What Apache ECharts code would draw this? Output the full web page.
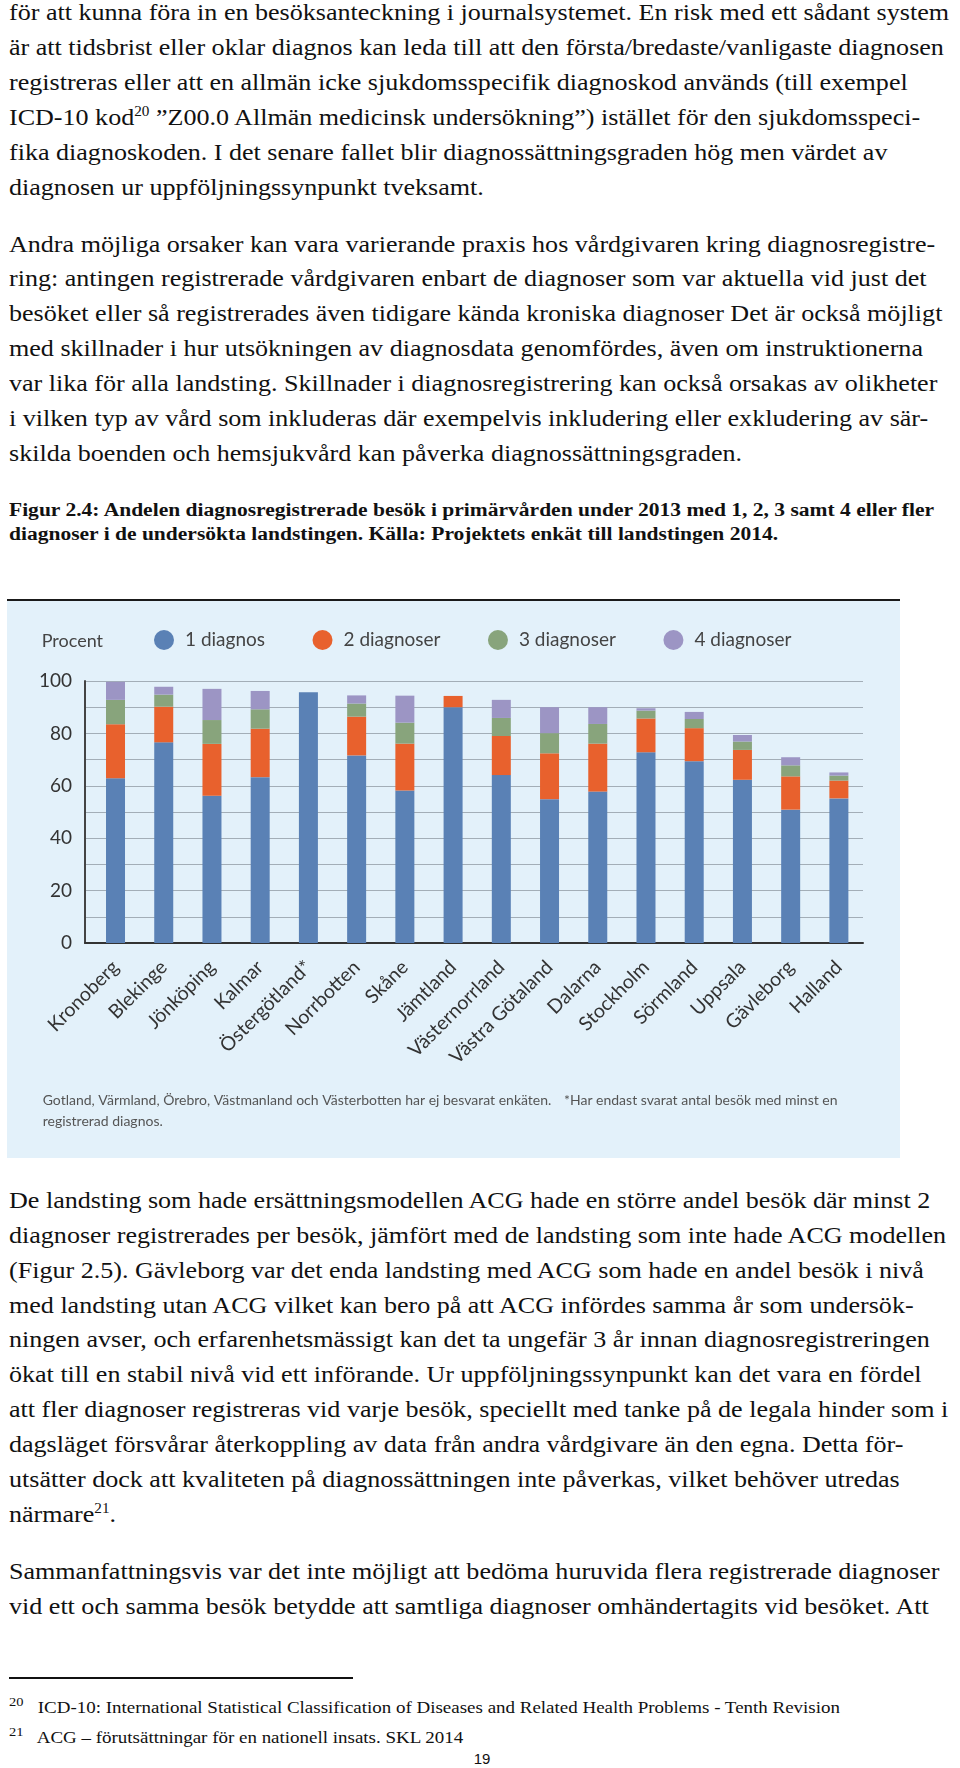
<!DOCTYPE html>
<html>
<head>
<meta charset="utf-8">
<script src="https://cdn.jsdelivr.net/npm/echarts@6/dist/echarts.min.js"></script>
<style>
  html, body { margin:0; padding:0; background:#fff; }
  body { width:960px; height:1768px; position:relative; overflow:hidden; }
  .para { position:absolute; left:9px; font-family:"Liberation Serif", "Times New Roman", Times, serif; color:#111; transform-origin:0 0; }
  .para div { white-space:nowrap; }
  .main { font-size:24px; line-height:34.9px; }
  .cap { font-size:18px; line-height:24px; font-weight:bold; }
  .fn { font-size:17px; line-height:30px; }
  .sup { position:relative; top:-9px; font-size:14px; line-height:0; }
  .fnsup { position:relative; top:-7px; font-size:13px; line-height:0; }
  #chart { position:absolute; left:7px; top:599px; width:893px; height:559px; }
  #rule { position:absolute; left:9px; top:1677px; width:344px; height:1.5px; background:#111; }
  #pnum { position:absolute; left:0; width:964px; text-align:center; top:1750px; font-family:"Liberation Sans", sans-serif; font-size:15px; color:#111; }
</style>
</head>
<body>
<div class="para main" id="p1" style="top:-4.9px">
  <div>för att kunna föra in en besöksanteckning i journalsystemet. En risk med ett sådant system</div>
  <div>är att tidsbrist eller oklar diagnos kan leda till att den första/bredaste/vanligaste diagnosen</div>
  <div>registreras eller att en allmän icke sjukdomsspecifik diagnoskod används (till exempel</div>
  <div>ICD-10 kod<span class="sup">20</span> ”Z00.0 Allmän medicinsk undersökning”) istället för den sjukdomsspeci-</div>
  <div>fika diagnoskoden. I det senare fallet blir diagnossättningsgraden hög men värdet av</div>
  <div>diagnosen ur uppföljningssynpunkt tveksamt.</div>
</div>
<div class="para main" id="p2" style="top:226.5px">
  <div>Andra möjliga orsaker kan vara varierande praxis hos vårdgivaren kring diagnosregistre-</div>
  <div>ring: antingen registrerade vårdgivaren enbart de diagnoser som var aktuella vid just det</div>
  <div>besöket eller så registrerades även tidigare kända kroniska diagnoser Det är också möjligt</div>
  <div>med skillnader i hur utsökningen av diagnosdata genomfördes, även om instruktionerna</div>
  <div>var lika för alla landsting. Skillnader i diagnosregistrering kan också orsakas av olikheter</div>
  <div>i vilken typ av vård som inkluderas där exempelvis inkludering eller exkludering av sär-</div>
  <div>skilda boenden och hemsjukvård kan påverka diagnossättningsgraden.</div>
</div>
<div class="para cap" id="cap" style="top:498px">
  <div>Figur 2.4: Andelen diagnosregistrerade besök i primärvården under 2013 med 1, 2, 3 samt 4 eller fler</div>
  <div>diagnoser i de undersökta landstingen. Källa: Projektets enkät till landstingen 2014.</div>
</div>
<div id="chart"></div>
<div class="para main" id="p3" style="top:1182.8px">
  <div>De landsting som hade ersättningsmodellen ACG hade en större andel besök där minst 2</div>
  <div>diagnoser registrerades per besök, jämfört med de landsting som inte hade ACG modellen</div>
  <div>(Figur 2.5). Gävleborg var det enda landsting med ACG som hade en andel besök i nivå</div>
  <div>med landsting utan ACG vilket kan bero på att ACG infördes samma år som undersök-</div>
  <div>ningen avser, och erfarenhetsmässigt kan det ta ungefär 3 år innan diagnosregistreringen</div>
  <div>ökat till en stabil nivå vid ett införande. Ur uppföljningssynpunkt kan det vara en fördel</div>
  <div>att fler diagnoser registreras vid varje besök, speciellt med tanke på de legala hinder som i</div>
  <div>dagsläget försvårar återkoppling av data från andra vårdgivare än den egna. Detta för-</div>
  <div>utsätter dock att kvaliteten på diagnossättningen inte påverkas, vilket behöver utredas</div>
  <div>närmare<span class="sup">21</span>.</div>
</div>
<div class="para main" id="p4" style="top:1554px">
  <div>Sammanfattningsvis var det inte möjligt att bedöma huruvida flera registrerade diagnoser</div>
  <div>vid ett och samma besök betydde att samtliga diagnoser omhändertagits vid besöket. Att</div>
</div>
<div id="rule"></div>
<div class="para fn" id="fn" style="top:1693px">
  <div><span class="fnsup">20</span>&nbsp;&nbsp; ICD-10: International Statistical Classification of Diseases and Related Health Problems - Tenth Revision</div>
  <div><span class="fnsup">21</span>&nbsp;&nbsp; ACG – förutsättningar för en nationell insats. SKL 2014</div>
</div>
<div id="pnum">19</div>

<script>
// ---- data ----
const regions = ['Kronoberg','Blekinge','Jönköping','Kalmar','Östergötland*','Norrbotten','Skåne','Jämtland','Västernorrland','Västra Götaland','Dalarna','Stockholm','Sörmland','Uppsala','Gävleborg','Halland'];
const seriesNames = ['1 diagnos','2 diagnoser','3 diagnoser','4 diagnoser'];
const oneDiag   = [62.9, 76.6, 56.2, 63.3, 95.7, 71.6, 58.2, 90.0, 64.1, 54.9, 57.8, 72.8, 69.4, 62.3, 50.9, 55.2];
const twoDiag   = [20.6, 13.6, 19.8, 18.5, 0, 14.8, 17.9, 4.3, 14.9, 17.5, 18.3, 12.9, 12.6, 11.4, 12.7, 6.8];
const threeDiag = [9.3, 4.6, 9.1, 7.4, 0, 5.0, 8.0, 0, 6.9, 7.7, 7.5, 3.0, 3.5, 3.2, 4.2, 1.9];
const fourDiag  = [6.9, 3.0, 11.9, 7.0, 0, 3.1, 10.3, 0, 6.9, 9.9, 6.4, 0.9, 2.7, 2.5, 3.1, 1.2];
const yTicks = [0, 20, 40, 60, 80, 100];
const noteLine1 = 'Gotland, Värmland, Örebro, Västmanland och Västerbotten har ej besvarat enkäten.';
const noteLine1b = '*Har endast svarat antal besök med minst en';
const noteLine2 = 'registrerad diagnos.';
const yTitle = 'Procent';

// ---- text scaling to page widths ----
function fit(id, targetWidth) {
  const el = document.getElementById(id);
  const first = el.querySelector('div');
  const r = document.createRange(); r.selectNodeContents(first);
  const w = r.getBoundingClientRect().width;
  el.style.transform = 'scaleX(' + (targetWidth / w) + ')';
  return targetWidth / w;
}
const s = fit('p1', 940);
['p2','p3','p4'].forEach(id => document.getElementById(id).style.transform = 'scaleX(' + s + ')');
fit('cap', 925);
fit('fn', 831);

// ---- chart ----
const colors = ['#5a81b5', '#e8612d', '#88a47c', '#9c95c4'];
const chart = echarts.init(document.getElementById('chart'), null, {renderer:'canvas'});
const data = [oneDiag, twoDiag, threeDiag, fourDiag];
const font = 'Lato, "Open Sans", sans-serif';
chart.setOption({
  animation: false,
  backgroundColor: '#e3f1fa',
  color: colors,
  legend: {
    data: seriesNames, icon: 'circle', itemWidth: 20, itemHeight: 20, itemGap: 47.5,
    left: 147, top: 31, padding: 0,
    textStyle: { fontFamily: font, fontSize: 19, color: '#444', padding: [0,0,0,6] }
  },
  grid: [
    { left: 78, right: 37, top: 82, height: 262 },
    { left: 84.4, right: 37, top: 82, height: 262 }
  ],
  xAxis: [
    { gridIndex: 0, type: 'value', min: 0, max: 1, axisLine: { show: true, onZero: false, lineStyle: { color: '#333', width: 2 } },
      axisTick: { show: false }, axisLabel: { show: false }, splitLine: { show: false } },
    { gridIndex: 1, type: 'category', data: regions, axisLine: { show: false }, axisTick: { show: false },
      axisLabel: { rotate: 45, interval: 0, margin: 21, fontFamily: font, fontSize: 19.5, color: '#333' } }
  ],
  yAxis: [
    { gridIndex: 0, type: 'value', min: 0, max: 100, interval: 10,
      axisLine: { show: true, lineStyle: { color: '#444', width: 2 } }, axisTick: { show: false },
      axisLabel: { margin: 13, fontFamily: font, fontSize: 19, color: '#333',
        formatter: v => yTicks.indexOf(v) >= 0 ? String(v) : '' },
      splitLine: { lineStyle: { color: '#a3aeb7', width: 1 } } },
    { gridIndex: 1, type: 'value', min: 0, max: 100, show: false }
  ],
  series: seriesNames.map((n, i) => ({
    name: n, type: 'bar', stack: 'total', xAxisIndex: 1, yAxisIndex: 1,
    barWidth: 19, data: data[i], itemStyle: { color: colors[i] }
  })),
  graphic: [
    { type: 'line', shape: { x1: 0, y1: 1, x2: 893, y2: 1 }, style: { stroke: '#1a1a1a', lineWidth: 2 } },
    { type: 'text', left: 34.7, top: 33, style: { text: yTitle, font: '18px ' + font, fill: '#444' } },
    { type: 'text', left: 35.7, top: 494, style: { text: noteLine1, font: '14px ' + font, fill: '#555' } },
    { type: 'text', left: 557, top: 494, style: { text: noteLine1b, font: '14px ' + font, fill: '#555' } },
    { type: 'text', left: 35.7, top: 515, style: { text: noteLine2, font: '14px ' + font, fill: '#555' } }
  ]
});
</script>
</body>
</html>
